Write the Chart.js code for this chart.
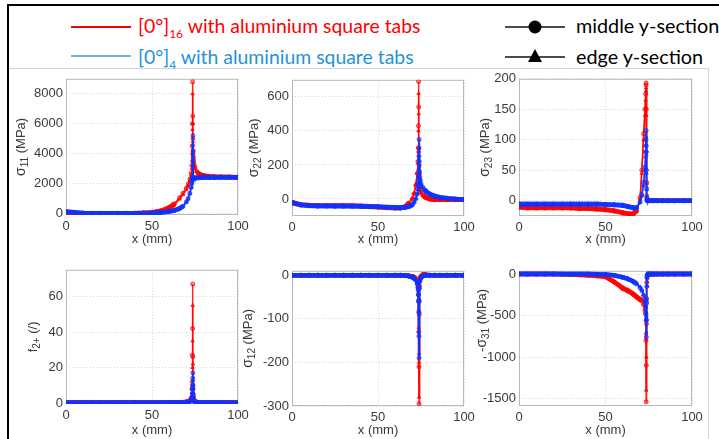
<!DOCTYPE html>
<html lang="en">
<head>
<meta charset="UTF-8">
<title>Stress along x</title>
<script src="https://cdn.jsdelivr.net/npm/chart.js"></script>
<style>
  body { margin: 0; width: 719px; height: 439px; overflow: hidden; background: #fff; position: relative; }
  .abs { position: absolute; }
  .frame-top { left: 7px; top: 4px; width: 712px; height: 2px; background: #000; }
  .frame-left { left: 7px; top: 4px; width: 2px; height: 435px; background: #000; }
  .inner-top { left: 9px; top: 68px; width: 700px; height: 1px; background: #d2d2d2; }
  .inner-right { left: 708px; top: 68px; width: 1px; height: 371px; background: #d2d2d2; }
  .leg-line { height: 1.5px; width: 60px; }
  .leg-text { font-family: Lato, 'Open Sans', sans-serif; font-size: 19.4px; line-height: 24px; white-space: nowrap; }
  .leg-text.r { font-size: 19.8px; }
  .leg-text sub { font-size: 12px; vertical-align: -5px; line-height: 0; }
  canvas { position: absolute; }
</style>
</head>
<body>
<div class="abs frame-top"></div>
<div class="abs frame-left"></div>
<div class="abs inner-top"></div>
<div class="abs inner-right"></div>

<div class="abs leg-line" style="left:71px;top:26px;background:#ff0000"></div>
<div class="abs leg-text" style="left:138px;top:14px;color:#ff0000">[0°]<sub>16</sub> with aluminium square tabs</div>
<div class="abs leg-line" style="left:71px;top:55px;background:#72b2dd"></div>
<div class="abs leg-text" style="left:138px;top:45px;color:#2592d6">[0°]<sub>4</sub> with aluminium square tabs</div>

<svg class="abs" style="left:504px;top:18px" width="62" height="20">
  <line x1="1" y1="9" x2="61" y2="9" stroke="#111" stroke-width="1.5"/>
  <circle cx="31" cy="9" r="6.5" fill="#000"/>
</svg>
<div class="abs leg-text r" style="left:576px;top:13px;color:#000">middle y-section</div>
<svg class="abs" style="left:504px;top:47px" width="62" height="20">
  <line x1="1" y1="10" x2="61" y2="10" stroke="#111" stroke-width="1.5"/>
  <polygon points="31,2 38,15 24,15" fill="#000"/>
</svg>
<div class="abs leg-text r" style="left:576px;top:44px;color:#000">edge y-section</div>

<canvas id="c11"></canvas>
<canvas id="c22"></canvas>
<canvas id="c23"></canvas>
<canvas id="cf2"></canvas>
<canvas id="c12"></canvas>
<canvas id="c31"></canvas>

<script>
// positions along the specimen (mm), shared by every curve
const X = [0, 5, 10, 15, 20, 25, 30, 35, 40, 45, 50, 55, 60, 63, 66, 68, 70, 71, 72, 72.8,
           73.2, 73.4, 73.5, 73.6, 73.7, 73.8, 73.9, 74.0, 74.1, 74.3, 74.6, 75, 76, 77, 78, 80,
           83, 86, 90, 95, 100];
const xTicks = [0, 50, 100];

// sigma_11 (MPa)
const s11RedMid  = [60,20,10,5,5,5,5,10,15,40, 80,170,400,650,1050,1350,1700,1950,2300,2700,
                    3200,4500,6000,8800,6500,5000,4200,3800,3600,3400, 3200,3050,2800,2680,2600,2530,2480,2460,2450,2440, 2420];
const s11RedEdge = [50,15,8,5,5,5,5,8,12,30, 60,140,330,560,950,1250,1600,1850,2200,2600,
                    3000,4000,5600,8000,6000,4800,4000,3700,3500,3300, 3150,3000,2780,2660,2590,2520,2470,2450,2440,2430, 2410];
const s11BlueMid = [120,80,20,5,0,0,0,0,5,10, 20,60,130,200,330,480,780,1000,1350,1750,
                    2050,2200,2300,2400,3500,5200,4100,2400,2380,2370, 2370,2370,2380,2390,2390,2400,2400,2400,2410,2410, 2400];
const s11BlueEdge = [100,60,15,5,0,0,0,0,5,10, 20,55,120,190,310,450,740,950,1300,1700,
                    2000,2150,2250,2350,3200,4600,3800,2350,2340,2340, 2350,2350,2360,2370,2380,2390,2390,2400,2400,2400, 2390];
const s11Ticks = [0, 2000, 4000, 6000, 8000];

// sigma_22 (MPa)
const s22RedMid  = [-25,-35,-38,-40,-40,-40,-40,-40,-42,-45, -48,-52,-55,-55,-45,-25,0,30,80,150,
                    220,300,430,690,540,300,200,150,110,80, 55,40,25,15,8,0,-5,-5,-5,-5, -5];
const s22RedEdge = [-20,-32,-36,-38,-38,-38,-38,-39,-40,-43, -46,-50,-52,-52,-42,-22,5,35,85,150,
                    210,280,400,620,500,280,190,140,100,75, 50,36,22,12,6,0,-4,-5,-5,-5, -5];
const s22BlueMid = [-20,-35,-40,-42,-42,-43,-43,-43,-44,-45, -46,-48,-50,-52,-50,-45,-35,-20,0,30,
                    60,80,100,130,170,250,350,220,160,130, 110,90,70,55,45,30,18,10,5,0, -3];
const s22BlueEdge = [-18,-33,-38,-40,-40,-41,-41,-42,-43,-44, -45,-47,-49,-50,-48,-43,-32,-18,2,28,
                    55,75,95,120,160,230,300,200,150,120, 100,85,66,52,42,28,16,9,4,0, -3];
const s22Ticks = [0, 200, 400, 600];

// sigma_23 (MPa)
const s23RedMid  = [-11,-12,-12,-12,-12,-12,-12,-13,-13,-14, -15,-17,-20,-22,-22,-17,5,50,110,150,
                    175,190,193,150,80,30,8,2,0,0, 0,0,0,0,0,0,0,0,0,0, 0];
const s23RedEdge = [-10,-11,-11,-11,-11,-11,-12,-12,-12,-13, -14,-16,-19,-21,-21,-16,3,45,100,140,
                    165,180,185,140,75,28,7,2,0,0, 0,0,0,0,0,0,0,0,0,0, 0];
const s23BlueMid = [-6,-6,-6,-6,-6,-6,-6,-6,-6,-6, -6,-7,-8,-10,-12,-12,-2,10,30,55,
                    80,100,115,90,50,20,5,1,0,0, 0,0,0,0,0,0,0,0,0,0, 0];
const s23BlueEdge = [-5,-5,-5,-5,-5,-5,-5,-5,-5,-5, -6,-6,-7,-9,-11,-11,-3,8,25,50,
                    72,92,105,82,45,18,4,1,0,0, 0,0,0,0,0,0,0,0,0,0, 0];
const s23Ticks = [0, 50, 100, 150, 200];

// f_2+ (/)
const f2RedMid  = [0.3,0.3,0.3,0.3,0.3,0.3,0.3,0.3,0.3,0.3, 0.3,0.3,0.3,0.3,0.4,0.5,0.8,1,1.5,3,
                   8,12,27,42,67,26,10,5,3,2, 1.5,1,0.6,0.4,0.3,0.3,0.3,0.3,0.3,0.3, 0.3];
const f2RedEdge = [0.3,0.3,0.3,0.3,0.3,0.3,0.3,0.3,0.3,0.3, 0.3,0.3,0.3,0.3,0.4,0.5,0.7,0.9,1.3,2.5,
                   6,10,20,35,55,22,9,4,2.5,1.8, 1.3,0.9,0.5,0.4,0.3,0.3,0.3,0.3,0.3,0.3, 0.3];
const f2BlueMid = [0.2,0.2,0.2,0.2,0.2,0.2,0.2,0.2,0.2,0.2, 0.2,0.2,0.2,0.2,0.2,0.2,0.3,0.5,1,2,
                   3,5,8,10,14,17,8,4,2.5,1.5, 1,0.6,0.3,0.2,0.2,0.2,0.2,0.2,0.2,0.2, 0.2];
const f2BlueEdge = [0.2,0.2,0.2,0.2,0.2,0.2,0.2,0.2,0.2,0.2, 0.2,0.2,0.2,0.2,0.2,0.2,0.3,0.4,0.8,1.6,
                   2.5,4,6,8,11,13,6,3,2,1.2, 0.8,0.5,0.3,0.2,0.2,0.2,0.2,0.2,0.2,0.2, 0.2];
const f2Ticks = [0, 20, 40, 60];

// sigma_12 (MPa)
const s12RedMid  = [0,0,0,0,0,0,0,0,0,0, 0,0,0,0,-1,-2,-3,-5,-8,-15,
                    -22,-30,-45,-60,-130,-210,-295,-90,-25,-10, -5,-2,2,2,1,0,0,0,0,0, 0];
const s12RedEdge = [0,0,0,0,0,0,0,0,0,0, 0,0,0,0,-1,-2,-3,-4,-7,-13,
                    -20,-27,-40,-55,-120,-200,-280,-85,-22,-9, -4,-2,2,2,1,0,0,0,0,0, 0];
const s12BlueMid = [0,0,0,0,0,0,0,0,0,0, 0,0,0,0,-1,-2,-5,-8,-12,-20,
                    -28,-35,-45,-60,-85,-140,-190,-60,-30,-15, -10,-5,-2,-1,0,0,0,0,0,0, 0];
const s12BlueEdge = [0,0,0,0,0,0,0,0,0,0, 0,0,0,0,-1,-2,-4,-7,-11,-18,
                    -25,-32,-42,-55,-80,-130,-180,-55,-28,-14, -9,-5,-2,-1,0,0,0,0,0,0, 0];
const s12Ticks = [-300, -200, -100, 0];

// sigma_31 (MPa)
const s31RedMid  = [0,0,0,0,0,-2,-5,-10,-15,-22, -32,-95,-175,-205,-245,-280,-310,-325,-370,-440,
                    -480,-800,-1540,-1100,-600,-300,-100,-30,-10,-5, -2,0,0,0,0,0,0,0,0,0, 0];
const s31RedEdge = [0,0,0,0,0,-2,-5,-9,-14,-20, -30,-90,-165,-195,-235,-270,-300,-315,-355,-420,
                    -460,-720,-1400,-1000,-550,-280,-90,-28,-9,-4, -2,0,0,0,0,0,0,0,0,0, 0];
const s31BlueMid = [0,0,0,0,0,0,0,0,0,-2, -5,-15,-40,-60,-90,-120,-165,-200,-260,-330,
                    -400,-480,-560,-760,-550,-350,-150,-50,-20,-8, -3,0,0,0,0,0,0,0,0,0, 0];
const s31BlueEdge = [0,0,0,0,0,0,0,0,0,-2, -5,-14,-37,-56,-85,-113,-155,-190,-245,-310,
                    -380,-450,-520,-700,-500,-320,-140,-45,-18,-7, -3,0,0,0,0,0,0,0,0,0, 0];
const s31Ticks = [-1500, -1000, -500, 0];

const RED = [255, 0, 0];
const BLUE = [15, 50, 255];
const TXT = '#3a3a3a';
const FONT = "'Liberation Sans', Arial, sans-serif";

function rgba(c, a) { return 'rgba(' + c[0] + ',' + c[1] + ',' + c[2] + ',' + a + ')'; }

function series(ys, col, shape) {
  return {
    data: X.map((x, i) => ({ x: x, y: ys[i] })),
    borderColor: rgba(col, 0.85),
    backgroundColor: rgba(col, 0.35),
    pointStyle: shape,
    pointRadius: 2,
    pointBorderWidth: 1,
    pointBorderColor: rgba(col, 0.8),
    pointBackgroundColor: rgba(col, 0.35),
    borderWidth: 4,
    segment: {
      // flat parts look like a dense band of markers, the spikes are thin lines
      borderWidth: c => Math.abs(c.p1.x - c.p0.x) >= Math.abs(c.p1.y - c.p0.y) ? 4.5 : 1.5
    }
  };
}

const boxPlugin = {
  id: 'box',
  beforeDatasetsDraw(chart) {
    const a = chart.chartArea, g = chart.ctx;
    g.save();
    g.strokeStyle = '#b8b8b8';
    g.lineWidth = 1;
    g.strokeRect(a.left + 0.5, a.top + 0.5, a.right - a.left - 1, a.bottom - a.top - 1);
    g.restore();
  }
};

// y label with a real subscript, rotated like the axis title
const ytitle = {
  id: 'ytitle',
  afterDraw(chart, args, opts) {
    const g = chart.ctx, a = chart.chartArea;
    const parts = opts.parts;
    g.save();
    g.translate(8, (a.top + a.bottom) / 2 + (opts.shift || 0));
    g.rotate(-Math.PI / 2);
    g.fillStyle = TXT;
    g.textBaseline = 'middle';
    g.textAlign = 'left';
    let total = 0;
    parts.forEach(p => { g.font = p[1] + 'px ' + FONT; total += g.measureText(p[0]).width; });
    let x = -total / 2;
    parts.forEach(p => {
      g.font = p[1] + 'px ' + FONT;
      g.fillText(p[0], x, p[2]);
      x += g.measureText(p[0]).width;
    });
    g.restore();
  }
};

function makePlot(p) {
  const cv = document.getElementById(p.id);
  const cw = p.yW + p.w + 16, ch = 10 + p.h + p.xH;
  cv.width = cw; cv.height = ch;
  cv.style.left = (p.left - p.yW) + 'px';
  cv.style.top = (p.top - 10) + 'px';
  cv.style.width = cw + 'px';
  cv.style.height = ch + 'px';

  new Chart(cv, {
    type: 'line',
    data: {
      datasets: [
        series(p.blue[0], BLUE, 'circle'),
        series(p.blue[1], BLUE, 'triangle'),
        series(p.red[0], RED, 'circle'),
        series(p.red[1], RED, 'triangle')
      ]
    },
    options: {
      responsive: false,
      animation: false,
      layout: { padding: { top: 10, right: 16, left: 0, bottom: 0 } },
      plugins: { legend: { display: false }, tooltip: { enabled: false }, ytitle: { parts: p.title, shift: p.shift } },
      scales: {
        x: {
          type: 'linear', min: 0, max: 100,
          afterBuildTicks: s => { s.ticks = xTicks.map(v => ({ value: v })); },
          afterFit: s => { s.height = p.xH; },
          grid: { color: '#d6d6d6', drawTicks: false },
          border: { display: false, dash: [1, 2] },
          ticks: { color: TXT, font: { family: FONT, size: 13 }, padding: 4, autoSkip: false, maxRotation: 0, callback: v => String(v) },
          title: { display: true, text: 'x (mm)', color: TXT, font: { family: FONT, size: 13 }, padding: 0 }
        },
        y: {
          type: 'linear', min: p.min, max: p.max,
          afterBuildTicks: s => { s.ticks = p.ticks.map(v => ({ value: v })); },
          afterFit: s => { s.width = p.yW; },
          grid: { color: '#d6d6d6', drawTicks: false },
          border: { display: false, dash: [1, 2] },
          ticks: { color: TXT, font: { family: FONT, size: 13 }, padding: 3, autoSkip: false, callback: v => String(v) }
        }
      }
    },
    plugins: [boxPlugin, ytitle]
  });
}

const MPA = ' (MPa)';
makePlot({ id: 'c11', left: 66, top: 78, w: 172, h: 137, yW: 53, xH: 32, min: -110, max: 9000,
  ticks: s11Ticks, title: [['σ', 14, 0], ['11', 10, 4], [MPA, 13, 0]], red: [s11RedMid, s11RedEdge], blue: [s11BlueMid, s11BlueEdge] });
makePlot({ id: 'c22', left: 292, top: 79, w: 172, h: 137, yW: 46, xH: 31, min: -100, max: 700,
  ticks: s22Ticks, title: [['σ', 14, 0], ['22', 10, 4], [MPA, 13, 0]], red: [s22RedMid, s22RedEdge], blue: [s22BlueMid, s22BlueEdge] });
makePlot({ id: 'c23', left: 519, top: 78, w: 173, h: 138, yW: 42, xH: 31, min: -25, max: 200,
  ticks: s23Ticks, title: [['σ', 14, 0], ['23', 10, 4], [MPA, 13, 0]], red: [s23RedMid, s23RedEdge], blue: [s23BlueMid, s23BlueEdge] });
makePlot({ id: 'cf2', left: 66, top: 269, w: 172, h: 135, yW: 41, xH: 34, min: -0.5, max: 75,
  ticks: f2Ticks, title: [['f', 13, 0], ['2+', 10, 4], [' (/)', 13, 0]], red: [f2RedMid, f2RedEdge], blue: [f2BlueMid, f2BlueEdge] });
makePlot({ id: 'c12', left: 292, top: 270, w: 172, h: 136, yW: 52, xH: 32, min: -300, max: 10,
  ticks: s12Ticks, title: [['σ', 14, 0], ['12', 10, 4], [MPA, 13, 0]], red: [s12RedMid, s12RedEdge], blue: [s12BlueMid, s12BlueEdge] });
makePlot({ id: 'c31', left: 519, top: 270, w: 173, h: 136, yW: 45, xH: 32, min: -1590, max: 40, shift: -18,
  ticks: s31Ticks, title: [['-', 13, 0], ['σ', 14, 0], ['31', 10, 4], [MPA, 13, 0]], red: [s31RedMid, s31RedEdge], blue: [s31BlueMid, s31BlueEdge] });
</script>
</body>
</html>
